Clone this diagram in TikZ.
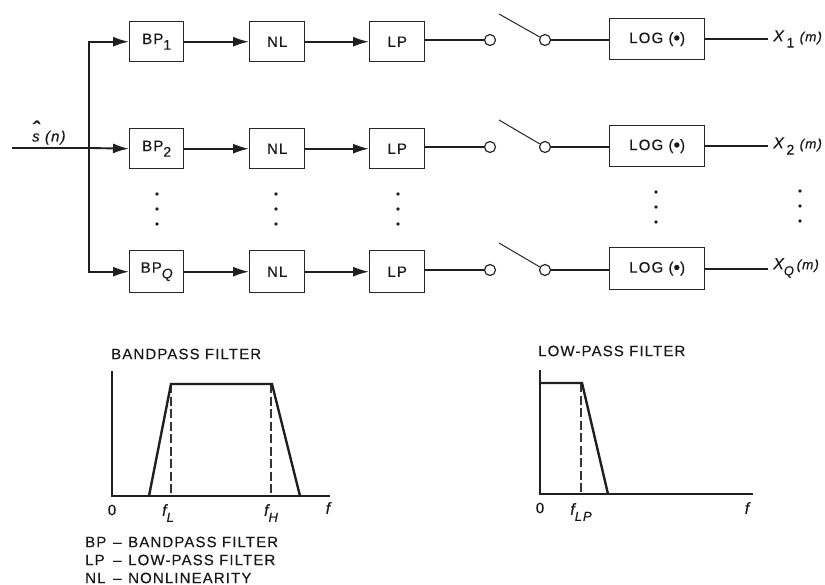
\documentclass[tikz,border=0pt]{standalone}
\usepackage{fontspec}
\setmainfont[LetterSpace=7.5,FakeBold=0.35]{Liberation Sans}
\usetikzlibrary{arrows.meta}
\newcommand{\subs}[1]{\raisebox{-0.38em}{#1}}
\newcommand{\fs}[1]{\fontsize{#1}{#1}\selectfont}
\newcommand{\logtext}{LOG (\raisebox{-1.2pt}{\fs{19}•})}
\tikzset{
  x=1pt,y=-1pt,
  every node/.style={font=\fs{15},inner sep=0pt,text=black!90},
  blockbox/.style={draw=black!85,line width=1.4pt,fill=white,anchor=north west,align=center},
  sig/.style={line width=1.9pt,draw=black!88},
  sigarrow/.style={sig,-{Latex[length=16pt,width=10pt]}},
  contact/.style={circle,draw=black!85,line width=1.2pt,fill=white,minimum size=11pt},
  blade/.style={line width=1pt,draw=black!85},
  dotmark/.style={circle,fill=black!88,minimum size=3.8pt},
  axisline/.style={line width=1.5pt,draw=black!88},
  curve/.style={line width=2.4pt,draw=black!88,line join=miter},
  cutoff/.style={line width=1.1pt,draw=black!80,dash pattern=on 9pt off 3.5pt},
  lab/.style={font=\fs{16}\itshape},
  outlab/.style={font=\fs{16}\itshape,anchor=west,inner xsep=5pt},
  caption/.style={font=\fs{15},anchor=west},
}
\newcommand{\blk}[6]{\node[blockbox,minimum width=#4 pt,minimum height=#5 pt] (#1) at (#2,#3) {#6};}
\newcommand{\legline}[2]{\makebox[28pt][l]{#1}\makebox[15pt][l]{–}#2}
\begin{document}
\begin{tikzpicture}
\useasboundingbox (0,0) rectangle (825,585);
% row 1
\blk{bpa}{129}{21}{54}{40}{BP\subs{\fs{14}1}}
\blk{nla}{249}{21}{55}{40}{NL}
\blk{lpa}{369}{21}{55}{40}{LP}
\blk{loga}{609}{18}{95}{41}{\logtext}
% row 2
\blk{bpb}{129}{128}{54}{40}{BP\subs{\fs{14}2}}
\blk{nlb}{249}{128}{55}{40}{NL}
\blk{lpb}{369}{128}{55}{40}{LP}
\blk{logb}{609}{125}{95}{41}{\logtext}
% row Q
\blk{bpc}{129}{250}{54}{42}{BP\subs{\fs{14}\itshape Q}}
\blk{nlc}{249}{250}{55}{42}{NL}
\blk{lpc}{369}{250}{55}{42}{LP}
\blk{logc}{609}{247}{95}{42}{\logtext}
% input
\coordinate (in) at (12,148);
\coordinate (jb) at (89,148);
\node[anchor=base west,font=\fs{15}\itshape] (sn) at (32,141.5) {\rlap{\raisebox{0.22em}{\kern-0.5pt\fs{24}ˆ}}s (n)};
\draw[sig] (in) -- (jb);
\draw[sigarrow] (jb) |- (bpa.west);
\draw[sigarrow] (jb) -- (bpb.west);
\draw[sigarrow] (jb) |- (bpc.west);
% chains
\foreach \r in {a,b,c}{
  \draw[sigarrow] (bp\r.east) -- (nl\r.west);
  \draw[sigarrow] (nl\r.east) -- (lp\r.west);
}
% contacts
\node[contact] (ca) at (490,40) {};
\node[contact] (da) at (545,40) {};
\node[contact] (cb) at (490,147) {};
\node[contact] (db) at (545,147) {};
\node[contact] (cc) at (490,270) {};
\node[contact] (dc) at (545,270) {};
\coordinate (ba) at (499,14);
\coordinate (bb) at (499,120);
\coordinate (bc) at (499,243);
\foreach \r in {a,b,c}{
  \draw[sig] (lp\r.east |- c\r.west) -- (c\r.west);
  \draw[sig] (d\r.east) -- (log\r.west |- d\r.east);
  \draw[blade] (b\r) -- (d\r);
}
% outputs
\node[outlab] (xa) at (768,39) {X\,\subs{\upshape\fs{14}1}\,\,\fs{13.5}(m)};
\node[outlab] (xb) at (768,146) {X\,\subs{\upshape\fs{14}2}\,\,\fs{13.5}(m)};
\node[outlab] (xc) at (768,268) {X\subs{\fs{13}Q}\,\fs{13.5}(m)};
\draw[sig] (loga.east) -- (xa.west |- loga.east);
\draw[sig] (logb.east) -- (xb.west |- logb.east);
\draw[sig] (logc.east) -- (xc.west |- logc.east);
% dots
\foreach \px/\py/\n in {157/194/a,276/194/b,398/194/c,656/192/d,800/191/e}{
  \node[dotmark] (\n1) at (\px,\py) {};
  \node[dotmark] (\n2) at (\px,\py+15) {};
  \node[dotmark] (\n3) at (\px,\py+30) {};
}
% bandpass
\node[caption] (tbp) at (111,354) {BANDPASS FILTER};
\draw[cutoff] (171,384) -- (171,496);
\draw[cutoff] (271,384) -- (271,496);
\draw[axisline] (112,371) -- (112,496) -- (330,496);
\draw[curve] (149,496) -- (171,384) -- (272,384) -- (300,496);
\node (bz) at (112,510) {0};
\node[lab] (bfl) at (168,513) {f\subs{\fs{13}L}};
\node[lab] (bfh) at (271,513) {f\subs{\fs{13}H}};
\node[lab] (bf) at (328,508) {f};
% legend
\node[caption] (l1) at (85,542) {\legline{BP}{BANDPASS FILTER}};
\node[caption] (l2) at (85,560) {\legline{LP}{LOW-PASS FILTER}};
\node[caption] (l3) at (85,578) {\legline{NL}{NONLINEARITY}};
% low-pass
\node[caption] (tlp) at (538,351) {LOW-PASS FILTER};
\draw[cutoff] (581,383) -- (581,494);
\draw[axisline] (540,370) -- (540,494) -- (753,494);
\draw[curve] (540,383) -- (582,383) -- (608,494);
\node (lz) at (540,508) {0};
\node[lab] (lfl) at (581,512) {f\subs{\fs{13}LP}};
\node[lab] (lf) at (747,508) {f};
\end{tikzpicture}
\end{document}
